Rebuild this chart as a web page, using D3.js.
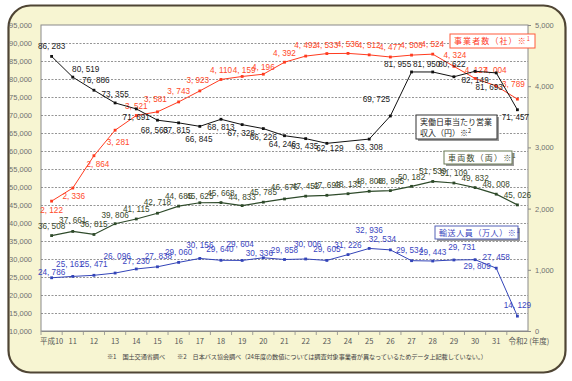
<!DOCTYPE html>
<html><head><meta charset="utf-8">
<script src="https://cdn.jsdelivr.net/npm/d3@7"></script>
<style>
body{margin:0;background:#fff;}
svg{display:block;}
.num{font-family:"Liberation Sans Narrow","Liberation Sans",Arial,sans-serif;}
.jp{font-family:"Noto Sans CJK JP","Noto Sans",sans-serif;}
</style></head>
<body>
<script>
// ---- data ----
const categories = ["平成10","11","12","13","14","15","16","17","18","19","20","21","22","23","24","25","26","27","28","29","30","31","令和2"];
const incomePerDay = [86283,80519,76886,73355,71691,68563,67815,66845,68813,67328,66226,64246,63435,62129,null,63308,69725,81955,81950,80622,82149,81693,71457];
const operators = [2122,2336,2864,3281,3521,3581,3743,3923,4110,4159,4196,4392,4492,4533,4536,4512,4477,4508,4524,4324,4127,4004,3789];
const vehicles = [36508,37661,36815,39806,41115,42718,44685,45625,45668,44833,45785,46676,47452,47693,48135,48808,48995,50182,51539,51109,49832,48008,45026];
const passengers = [24786,25161,25471,26096,27230,27838,29060,30156,29640,29604,30336,29858,30006,29605,31226,32936,32534,29534,29443,29731,29809,27458,14129];
const leftTicks = [10000,15000,20000,25000,30000,35000,40000,45000,50000,55000,60000,65000,70000,75000,80000,85000,90000,95000];
const rightTicks = [0,1000,2000,3000,4000,5000];

// ---- label offsets (placement only) ----
const incomeLblDx = [0,13,2,0,0,-3,-2,-1,0,-1,0,-2,-1,3,0,0,-14,-14,-6,-2,0,-7,-2];
const incomeLblDy = [-7,-5,-7,-6,11,13,10,16,11,11,11,11,10,8,0,11,-14,-5,-5,-10,12,17,10];
const operLblDx = [0,1,4,3,0,-2,0,-2,0,2,0,0,0,0,0,0,0,0,0,1,1,-1,-4];
const operLblDy = [12,11,11,15,-7,-10,-8,-8,-6,-3,-4,-6,-8,-6,-6,-7,-7,-7,-7,-8,-5,-13,-12];
const vehLblDx = new Array(23).fill(0);
const vehLblDy = [-7,-8,-7,-6,-7,-8,-7,-4,-7,-6,-7,-9,-7,-7,-7,-7,-7,-6,-7,-7,-7,-7,-7];
const pasLblDx = [0,-3,0,2,0,1,0,0,-1,-2,-4,0,2,0,0,0,-8,-2,0,8,2,0,0];
const pasLblDy = [-3,-9,-8,-14,-5,-8,-7,-10,-8,-13,-2,-7,-12,-8,-7,-15,-8,-8,-6,-10,9,-8,-8];

const W = 572, H = 381;
const svg = d3.select("body").append("svg").attr("width", W).attr("height", H);

// outer frame
svg.append("rect").attr("x", 8.5).attr("y", 5.5).attr("width", 557).attr("height", 367)
  .attr("rx", 22).attr("fill", "#f7f5d2").attr("stroke", "#4f4534").attr("stroke-width", 2.2);

const pl = 41, pr = 528, pt = 25, pb = 331;

svg.append("rect").attr("x", pl).attr("y", pt).attr("width", pr - pl).attr("height", pb - pt)
  .attr("fill", "#fff").attr("stroke", "#8a8a8a").attr("stroke-width", 1);

const x = d3.scaleBand().domain(categories).range([pl, pr]);
const cx = c => x(c) + x.bandwidth() / 2;
const yL = d3.scaleLinear().domain([10000, 95000]).range([pb, pt]);
const yR = d3.scaleLinear().domain([0, 5000]).range([pb, pt]);

// gridlines
const grid = svg.append("g").attr("transform", `translate(${pl},0)`)
  .call(d3.axisLeft(yL).tickValues(leftTicks.filter(v => v > 10000 && v < 95000)).tickSize(-(pr - pl)).tickFormat(""));
grid.select(".domain").remove();
grid.selectAll("line").attr("stroke", "#7a7a7a").attr("stroke-dasharray", "2,1.5").attr("stroke-width", 0.8);

// left axis
const fmtAxis = d3.format(",");
const ax = svg.append("g").attr("transform", `translate(${pl},0)`)
  .call(d3.axisLeft(yL).tickValues(leftTicks).tickSize(0).tickPadding(9).tickFormat(fmtAxis));
ax.select(".domain").remove();
ax.selectAll("text").attr("class", "num").attr("font-size", 7.5).attr("fill", "#707070");

// right axis
const ar = svg.append("g").attr("transform", `translate(${pr},0)`)
  .call(d3.axisRight(yR).tickValues(rightTicks).tickSize(3).tickPadding(4).tickFormat(fmtAxis));
ar.select(".domain").remove();
ar.selectAll("line").attr("stroke", "#8a8a8a");
ar.selectAll("text").attr("class", "num").attr("font-size", 7.5).attr("fill", "#707070");

// bottom axis
const ab = svg.append("g").attr("transform", `translate(0,${pb})`)
  .call(d3.axisBottom(x).tickSize(0).tickPadding(8));
ab.select(".domain").attr("stroke", "#8a8a8a");
ab.selectAll("text").attr("class", "jp").attr("font-size", 7.5).attr("fill", "#555");
ab.selectAll(".tick").filter(d => d === "令和2").select("text")
  .text("令和2 (年度)").attr("text-anchor", "start").attr("dx", -9);
// category boundary ticks
svg.append("g").selectAll("line").data(categories).join("line")
  .attr("x1", d => x(d)).attr("x2", d => x(d)).attr("y1", pb).attr("y2", pb + 4)
  .attr("stroke", "#8a8a8a").attr("stroke-width", 0.8);

const fmtLbl = v => d3.format(",")(v).replace(",", ", ");

function drawSeries(values, yScale, color, lblColor, dxs, dys, width) {
  const pts = values.map((v, i) => ({c: categories[i], v, i})).filter(d => d.v != null);
  const line = d3.line().x(d => cx(d.c)).y(d => yScale(d.v));
  const g = svg.append("g");
  g.append("path").datum(pts).attr("d", line).attr("fill", "none")
    .attr("stroke", color).attr("stroke-width", width);
  g.selectAll("rect").data(pts).join("rect")
    .attr("x", d => cx(d.c) - 1.4).attr("y", d => yScale(d.v) - 1.4)
    .attr("width", 2.8).attr("height", 2.8).attr("fill", color);
  g.selectAll("text").data(pts).join("text")
    .attr("class", "num").attr("font-size", 8.2).attr("fill", lblColor)
    .attr("text-anchor", "middle")
    .attr("x", d => cx(d.c) + dxs[d.i]).attr("y", d => yScale(d.v) + dys[d.i])
    .text(d => fmtLbl(d.v));
}

drawSeries(vehicles, yL, "#2e4a2a", "#3b4a2c", vehLblDx, vehLblDy, 1.2);
drawSeries(passengers, yL, "#3344b8", "#3a45c0", pasLblDx, pasLblDy, 1);
drawSeries(operators, yR, "#ff3b1f", "#ff4a2a", operLblDx, operLblDy, 1);
drawSeries(incomePerDay, yL, "#111", "#222", incomeLblDx, incomeLblDy, 1);

// legend boxes
function legendBox(x0, y0, w, h, stroke, lines, color, shadow) {
  const g = svg.append("g");
  if (shadow) g.append("rect").attr("x", x0 + 2).attr("y", y0 + 2).attr("width", w).attr("height", h).attr("fill", "#9a9a9a");
  g.append("rect").attr("x", x0).attr("y", y0).attr("width", w).attr("height", h)
    .attr("fill", "#fff").attr("stroke", stroke).attr("stroke-width", 1);
  lines.forEach((ln, k) => {
    const t = g.append("text").attr("class", "jp").attr("font-size", 8).attr("fill", color)
      .attr("x", x0 + 4).attr("y", y0 + 10 + k * 11).attr("letter-spacing", ln.ls);
    t.append("tspan").text(ln.main);
    t.append("tspan").attr("font-size", 5.5).attr("dy", -3).text(ln.sup);
  });
}
legendBox(450, 34, 85, 14, "#ff5a3a", [{main: "事業者数（社）※", sup: "1", ls: 1.1}], "#ff3b1f", false);
legendBox(416, 115, 81, 24, "#333", [{main: "実働日車当たり営業", sup: "", ls: 0}, {main: "収入（円）※", sup: "2", ls: 0}], "#222", true);
legendBox(444, 151, 68, 13, "#6a7a55", [{main: "車両数（両）※", sup: "1", ls: 1.2}], "#3b4a2c", true);
legendBox(435, 226, 83, 13, "#5562b8", [{main: "輸送人員（万人）※", sup: "1", ls: 0.6}], "#3a45c0", true);

// footnote
svg.append("text").attr("class", "jp").attr("font-size", 6.2).attr("fill", "#444")
  .attr("x", 107).attr("y", 359).attr("textLength", 380).attr("lengthAdjust", "spacing")
  .text("※1　国土交通省調べ　　※2　日本バス協会調べ（24年度の数値については調査対象事業者が異なっているためデータ上記載していない。）");
</script>
</body></html>
